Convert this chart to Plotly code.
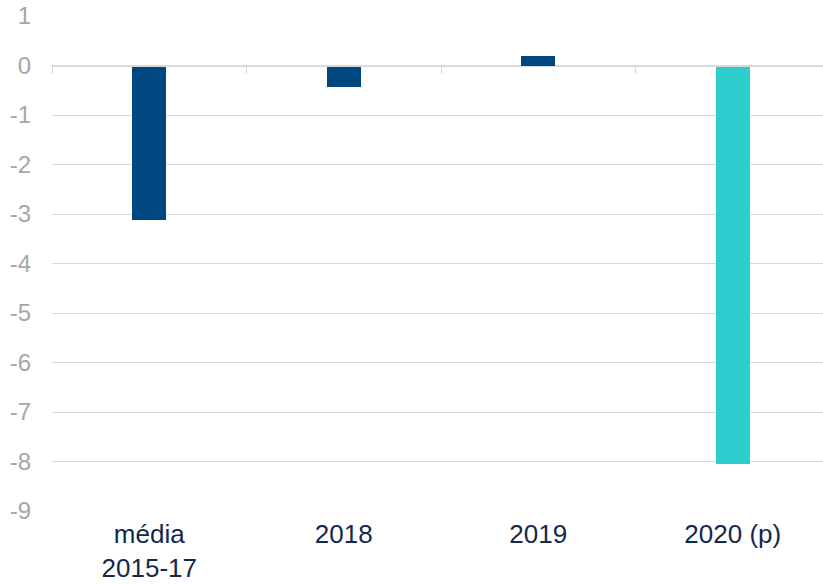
import plotly.graph_objects as go

# Category labels and values
categories = ["média<br>2015-17", "2018", "2019", "2020 (p)"]
values = [-3.12, -0.44, 0.20, -8.06]
bar_colors = ["#00467f", "#00467f", "#00467f", "#2dcccd"]
y_ticks = list(range(-9, 2))
y_tick_text = [str(v) for v in y_ticks]  # plain hyphen minus

W, H = 830, 585
TOP, BOTTOM, LEFT = 16, 74, 52
n = len(categories)

fig = go.Figure()
fig.add_trace(go.Bar(
    x=list(range(n)),
    y=values,
    width=0.175,
    marker=dict(color=bar_colors, line=dict(width=0)),
    showlegend=False,
    hoverinfo="skip",
))
# Invisible trace so the zero-line axis gets drawn
fig.add_trace(go.Scatter(
    x=[-0.5, n - 0.5], y=[0, 0],
    xaxis="x2", yaxis="y",
    mode="lines", line=dict(width=0, color="rgba(0,0,0,0)"),
    showlegend=False, hoverinfo="skip",
))

fig.update_layout(
    width=W, height=H,
    margin=dict(l=LEFT, r=0, t=TOP, b=BOTTOM),
    paper_bgcolor="white",
    plot_bgcolor="white",
    font=dict(family="Liberation Sans, Arial, sans-serif"),
    bargap=0,
    xaxis=dict(
        range=[-0.5, n - 0.5],
        tickmode="array",
        tickvals=list(range(n)),
        ticktext=categories,
        showgrid=False,
        zeroline=False,
        showline=False,
        ticks="",
        ticklabelstandoff=5,
        tickfont=dict(size=26, color="#13294b"),
    ),
    # Zero-line axis with category separator ticks
    xaxis2=dict(
        overlaying="x",
        anchor="free",
        position=(0 - y_ticks[0]) / (y_ticks[-1] - y_ticks[0]),
        side="bottom",
        range=[-0.5, n - 0.5],
        tickmode="array",
        tickvals=[i - 0.5 for i in range(n + 1)],
        ticks="outside",
        ticklen=7,
        tickcolor="#d9d9d9",
        tickwidth=1,
        showticklabels=False,
        showgrid=False,
        zeroline=False,
        showline=True,
        linecolor="#d9d9d9",
        linewidth=1,
    ),
    yaxis=dict(
        range=[y_ticks[0], y_ticks[-1]],
        tickmode="array",
        tickvals=y_ticks,
        ticktext=y_tick_text,
        showgrid=True,
        gridcolor="#d9d9d9",
        gridwidth=1,
        zeroline=False,
        showline=False,
        ticks="",
        ticklabelstandoff=20,
        tickfont=dict(size=24, color="#a6a6a6"),
    ),
)

fig.write_html("out.html")
